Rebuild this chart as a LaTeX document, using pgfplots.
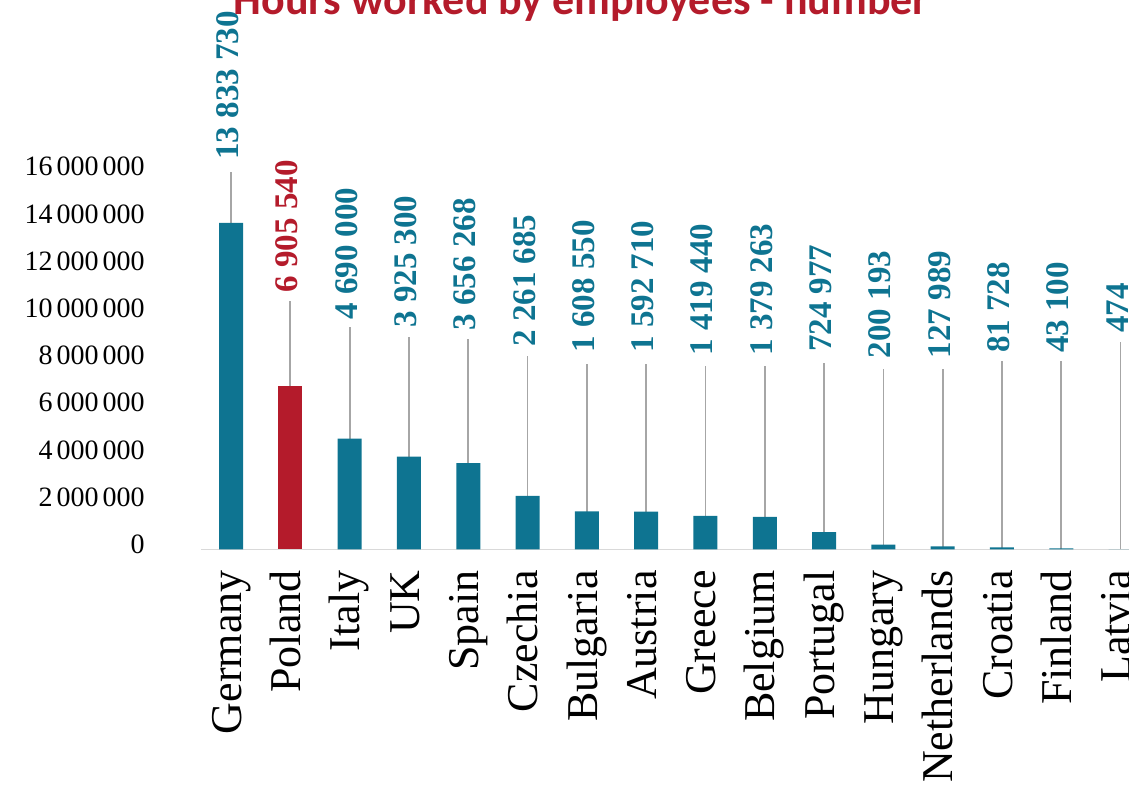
\documentclass[border=0pt]{standalone}
\usepackage{fontspec}
\setmainfont{Liberation Serif}
\newfontfamily\titlefont{Carlito}
\usepackage{pgfplots}
\usepackage{pgfplotstable}
\pgfplotsset{compat=1.18}
\definecolor{teal1}{RGB}{14,116,145}
\definecolor{red1}{RGB}{180,27,43}
\definecolor{lead}{RGB}{166,166,166}
\definecolor{axl}{RGB}{217,217,217}

\pgfplotstableread[col sep=comma]{
x,v,lt,lb,lab
0,13833730,15990000,16500000,13 833 730
2,4690000,9420000,9720000,4 690 000
3,3925300,9010000,9380000,3 925 300
4,3656268,8910000,9260000,3 656 268
5,2261685,8190000,8570000,2 261 685
6,1608550,7850000,8330000,1 608 550
7,1592710,7850000,8320000,1 592 710
8,1419440,7770000,8190000,1 419 440
9,1379263,7770000,8190000,1 379 263
10,724977,7910000,8350000,724 977
11,200193,7650000,8080000,200 193
12,127989,7630000,8080000,127 989
13,81728,7970000,8310000,81 728
14,43100,7970000,8310000,43 100
15,474,8780000,9150000,474
}\dataT

\pgfplotstableread[col sep=comma]{
x,v,lt,lb,lab
1,6905540,10530000,10870000,6 905 540
}\dataP

\begin{document}
\begin{tikzpicture}
\begin{axis}[
  scale only axis, width=474.4pt, height=188.8pt,
  xmin=-0.5, xmax=15.5, ymin=0, ymax=16000000,
  clip=false,
  axis x line*=bottom, axis y line*=left,
  x axis line style={draw=axl, line width=0.7pt},
  y axis line style={draw=none},
  xtick={0,1,2,3,4,5,6,7,8,9,10,11,12,13,14,15},
  xticklabels={Germany,Poland,Italy,UK,Spain,Czechia,Bulgaria,Austria,Greece,Belgium,Portugal,Hungary,Netherlands,Croatia,Finland,Latvia},
  ytick={0,2000000,4000000,6000000,8000000,10000000,12000000,14000000,16000000},
  yticklabels={0,2\kern2pt000\kern2pt000,4\kern2pt000\kern2pt000,6\kern2pt000\kern2pt000,8\kern2pt000\kern2pt000,10\kern2pt000\kern2pt000,12\kern2pt000\kern2pt000,14\kern2pt000\kern2pt000,16\kern2pt000\kern2pt000},
  major tick length=0pt,
  tick style={draw=none},
  xticklabel style={font=\fontsize{22}{24}\selectfont, yshift=-10.35pt, rotate=90, anchor=east, inner sep=0pt, text height=15.4pt, text depth=5.2pt},
  yticklabel style={font=\fontsize{14}{16}\selectfont, xshift=-28.2pt, yshift=2.5pt, anchor=east, inner sep=0pt},
  scaled y ticks=false,
]
\coordinate (o) at (rel axis cs:0,0);
\addplot[ycomb, draw=lead, line width=0.85pt, mark=none] table[x=x,y=lt]{\dataT};
\addplot[ycomb, draw=lead, line width=0.85pt, mark=none] table[x=x,y=lt]{\dataP};
\addplot[ybar, bar width=12pt, bar shift=0pt, fill=teal1, draw=none] table[x=x,y=v]{\dataT};
\addplot[ybar, bar width=12pt, bar shift=0pt, fill=red1, draw=none] table[x=x,y=v]{\dataP};
\addplot[draw=none, mark=none, nodes near coords, point meta=explicit symbolic,
  nodes near coords style={font=\bfseries\fontsize{16.5}{18}\selectfont, text=teal1, rotate=90, anchor=west, inner sep=0pt, text height=11.5pt, text depth=4pt}]
  table[x=x,y=lb,meta=lab]{\dataT};
\addplot[draw=none, mark=none, nodes near coords, point meta=explicit symbolic,
  nodes near coords style={font=\bfseries\fontsize{16.5}{18}\selectfont, text=red1, rotate=90, anchor=west, inner sep=0pt, text height=11.5pt, text depth=4pt}]
  table[x=x,y=lb,meta=lab]{\dataP};
\end{axis}
\node[anchor=base, text=red1, font=\titlefont\bfseries\fontsize{22}{24}\selectfont] at ([shift={(189.8pt,267.15pt)}]o) {Hours worked by employees - number};
\pgfresetboundingbox
\path[use as bounding box] ([shift={(-100.7pt,-118.85pt)}]o) rectangle ++(564.5pt,393.5pt);
\end{tikzpicture}
\end{document}
